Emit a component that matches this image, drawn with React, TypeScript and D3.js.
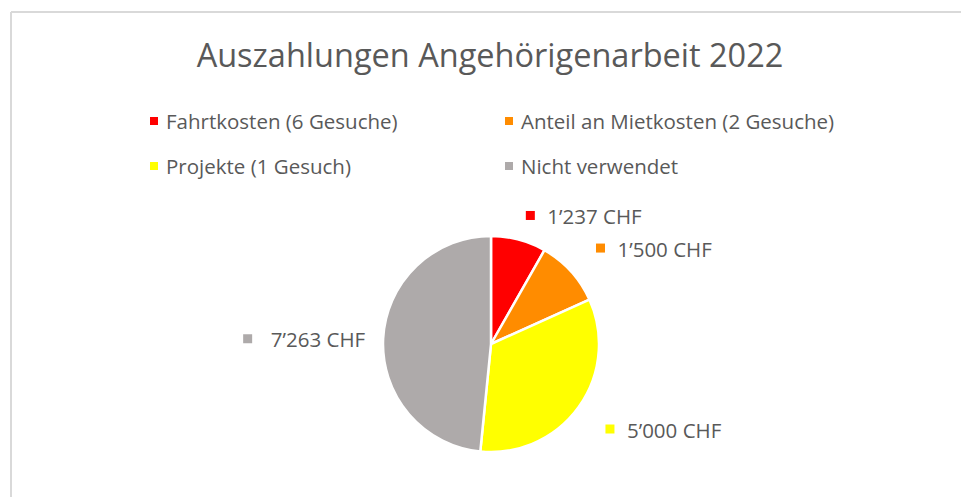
import React from "react";
import * as d3 from "d3";

const categories = ["Fahrtkosten (6 Gesuche)", "Anteil an Mietkosten (2 Gesuche)", "Projekte (1 Gesuch)", "Nicht verwendet"];
const values = [1237, 1500, 5000, 7263];
const valueLabels = ["1’237 CHF", "1’500 CHF", "5’000 CHF", "7’263 CHF"];
const colors = ["#FF0000", "#FF8C00", "#FFFF00", "#AEAAAA"];
const title = "Auszahlungen Angehörigenarbeit 2022";

const W = 961;
const H = 497;
const CX = 491;
const CY = 344;
const R = 108;
const LABEL_R = [134, 144, 144, 126];
const LABEL_DX = [5, 3, 2, 0];
const TEXT = "#595959";
const FONT = "'Open Sans', sans-serif";

export default function App() {
  const pie = d3.pie<number>().value((d) => d).sort(null);
  const arcs = pie(values);
  const arc = d3.arc<d3.PieArcDatum<number>>().innerRadius(0).outerRadius(R);

  const legendX = d3.scalePoint<number>().domain([0, 1]).range([150, 505]);
  const legendY = d3.scalePoint<number>().domain([0, 1]).range([121, 166]);

  return (
    <svg width={W} height={H} style={{ position: "absolute", left: 0, top: 0, background: "#fff" }} fontFamily={FONT}>
      <rect x={0} y={0} width={W} height={H} fill="#fff" />
      <line x1={11} y1={12} x2={W} y2={12} stroke="#D9D9D9" strokeWidth={2} />
      <line x1={11} y1={12} x2={11} y2={H} stroke="#D9D9D9" strokeWidth={2} />
      <text x={490} y={67} textAnchor="middle" fontSize={32.5} fill={TEXT}>{title}</text>
      {categories.map((c, i) => {
        const x = legendX(i % 2)!;
        const y = legendY(Math.floor(i / 2))!;
        return (
          <g key={c}>
            <rect x={x} y={y - 4} width={8} height={8} fill={colors[i]} />
            <text x={x + 16} y={y + 7.5} fontSize={20.5} fill={TEXT}>{c}</text>
          </g>
        );
      })}
      <g transform={`translate(${CX},${CY})`}>
        {arcs.map((a, i) => (
          <path key={i} d={arc(a) || ""} fill={colors[i]} stroke="#fff" strokeWidth={2.5} strokeLinejoin="round" />
        ))}
        {arcs.map((a, i) => {
          const mid = (a.startAngle + a.endAngle) / 2;
          const lx = LABEL_R[i] * Math.sin(mid) + LABEL_DX[i];
          const ly = -LABEL_R[i] * Math.cos(mid) + 1;
          const right = lx >= 0;
          if (right) {
            return (
              <g key={"l" + i}>
                <rect x={lx - 4.5} y={ly - 4.5} width={9} height={9} fill={colors[i]} />
                <text x={lx + 17} y={ly + 8.5} fontSize={20.5} fill={TEXT}>{valueLabels[i]}</text>
              </g>
            );
          }
          return (
            <g key={"l" + i}>
              <text x={lx} y={ly + 8.5} fontSize={20.5} fill={TEXT} textAnchor="end">{valueLabels[i]}</text>
              <rect x={lx - 122} y={ly - 4.5} width={9} height={9} fill={colors[i]} />
            </g>
          );
        })}
      </g>
    </svg>
  );
}
